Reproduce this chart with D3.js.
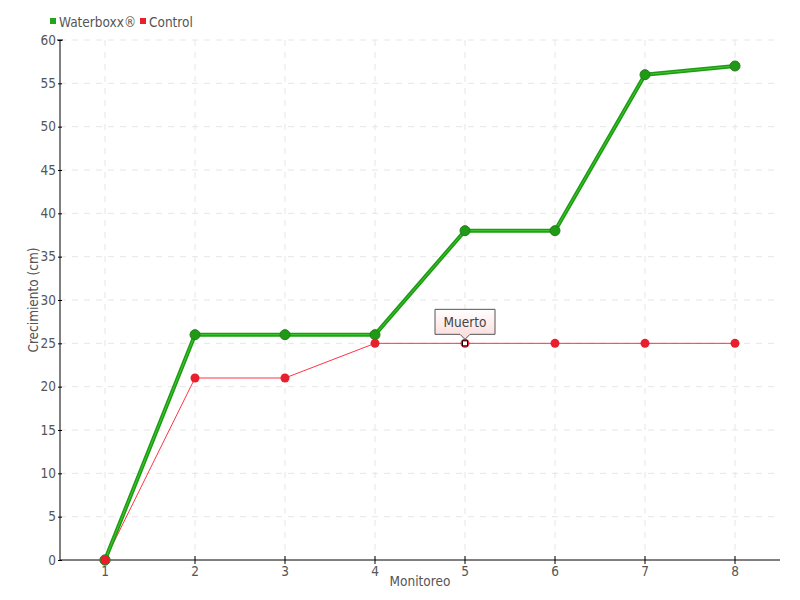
<!DOCTYPE html>
<html><head><meta charset="utf-8">
<script src="https://cdn.jsdelivr.net/npm/d3@7"></script>
<style>body{margin:0;background:#fff}svg{display:block}</style>
</head><body><svg id="c" width="800" height="600"></svg>
<script>
const categories = ["1","2","3","4","5","6","7","8"];
const waterboxx = [0, 26, 26, 26, 38, 38, 56, 57];
const control = [0, 21, 21, 25, 25, 25, 25, 25];
const yTicks = [0,5,10,15,20,25,30,35,40,45,50,55,60];
const seriesNames = ["Waterboxx®", "Control"];
const annotationLabel = "Muerto";
const annotationIndex = 4;

const font = "'DejaVu Sans Condensed','Liberation Sans Narrow',sans-serif";
const fs = "13.5px";
const svg = d3.select("#c");
const L=60, R=780, T=40, B=560;
const x = d3.scaleBand().domain(categories).range([L,R]);
const xc = d => x(d) + x.bandwidth()/2;
const y = d3.scaleLinear().domain([0,60]).range([B,T]);

// grid
const g = svg.append("g");
g.selectAll("line.h").data(yTicks.filter(v=>v>0)).join("line")
 .attr("x1",L).attr("x2",R).attr("y1",d=>y(d)).attr("y2",d=>y(d))
 .attr("stroke","#e6e6e6").attr("stroke-dasharray","6,6");
g.selectAll("line.v").data(categories).join("line")
 .attr("x1",d=>xc(d)).attr("x2",d=>xc(d)).attr("y1",T).attr("y2",B)
 .attr("stroke","#e6e6e6").attr("stroke-dasharray","6,6");

// axes
const ya = svg.append("g").attr("transform",`translate(${L},0)`)
 .call(d3.axisLeft(y).tickValues(yTicks).tickSize(2));
ya.select(".domain").attr("d",`M0,${T}V${B}`).attr("stroke","#000");
ya.selectAll(".tick line").attr("x1",-2).attr("x2",2).attr("stroke","#000");
ya.selectAll(".tick text").attr("x",-4).attr("fill","#555").style("font-family",font).style("font-size",fs);
ya.append("line").attr("x1",-3).attr("x2",3).attr("y1",T).attr("y2",T).attr("stroke","#000");

const xa = svg.append("g").attr("transform",`translate(0,${B})`)
 .call(d3.axisBottom(x).tickSize(4));
xa.select(".domain").attr("d",`M${L},0H${R}`).attr("stroke","#000");
xa.selectAll(".tick line").attr("y1",-4).attr("y2",4).attr("stroke","#000");
xa.selectAll(".tick text").attr("y",6).attr("fill","#555").style("font-family",font).style("font-size",fs);

svg.append("text").attr("x",420).attr("y",586).attr("text-anchor","middle")
 .attr("fill","#555").style("font-family",font).style("font-size",fs).text("Monitoreo");
svg.append("text").attr("transform",`translate(38,300) rotate(-90)`).attr("text-anchor","middle")
 .attr("fill","#555").style("font-family",font).style("font-size",fs).text("Crecimiento (cm)");

// lines
const line = d3.line().x((d,i)=>xc(categories[i])).y(d=>y(d));
svg.append("path").datum(control).attr("d",line).attr("fill","none").attr("stroke","#ff3344").attr("stroke-width",1);
svg.append("path").datum(waterboxx).attr("d",line).attr("fill","none").attr("stroke","#1f9a14").attr("stroke-width",4);
svg.append("path").datum(waterboxx).attr("d",line).attr("fill","none").attr("stroke","#3ccc30").attr("stroke-width",1);

svg.selectAll("circle.w").data(waterboxx).join("circle")
 .attr("cx",(d,i)=>xc(categories[i])).attr("cy",d=>y(d)).attr("r",5)
 .attr("fill","#1f9a14").attr("stroke","#2a7a20").attr("stroke-width",1);
svg.selectAll("circle.c").data(control).join("circle")
 .attr("cx",(d,i)=>xc(categories[i])).attr("cy",d=>y(d)).attr("r",4.5)
 .attr("fill","#e8202e").attr("stroke","none");
svg.append("circle").attr("cx",xc(categories[0])).attr("cy",y(control[0])).attr("r",5)
 .attr("fill","#ee1c2a").attr("stroke","#2a8a20").attr("stroke-width",1);

// annotation
const ax = xc(categories[annotationIndex]), ay = y(control[annotationIndex]);
svg.append("rect").attr("x",ax-2.5).attr("y",ay-2.5).attr("width",5).attr("height",5).attr("fill","#fff").attr("stroke","#000").attr("stroke-width",1);
const grad = svg.append("defs").append("linearGradient").attr("id","tg").attr("x1",0).attr("y1",0).attr("x2",0).attr("y2",1);
grad.append("stop").attr("offset","0").attr("stop-color","#fff");
grad.append("stop").attr("offset","1").attr("stop-color","#fbd9d9");
const bw=60, bh=25, by=ay-34;
svg.append("path").attr("d",`M${ax-bw/2},${by}H${ax+bw/2}V${by+bh}H${ax+5}L${ax},${by+bh+5}L${ax-5},${by+bh}H${ax-bw/2}Z`)
 .attr("fill","url(#tg)").attr("stroke","#555").attr("stroke-width",1);
svg.append("text").attr("x",ax).attr("y",by+18).attr("text-anchor","middle").attr("fill","#444")
 .style("font-family",font).style("font-size",fs).text(annotationLabel);

// legend
const leg = svg.append("g");
const legColors = ["#22a51a","#e8202e"];
const lx = [50,140];
seriesNames.forEach((n,i)=>{
  leg.append("rect").attr("x",lx[i]).attr("y",18).attr("width",6).attr("height",6).attr("fill",legColors[i]);
  leg.append("text").attr("x",lx[i]+9).attr("y",27).attr("fill","#555").style("font-family",font).style("font-size",fs).text(n);
});
</script></body></html>
